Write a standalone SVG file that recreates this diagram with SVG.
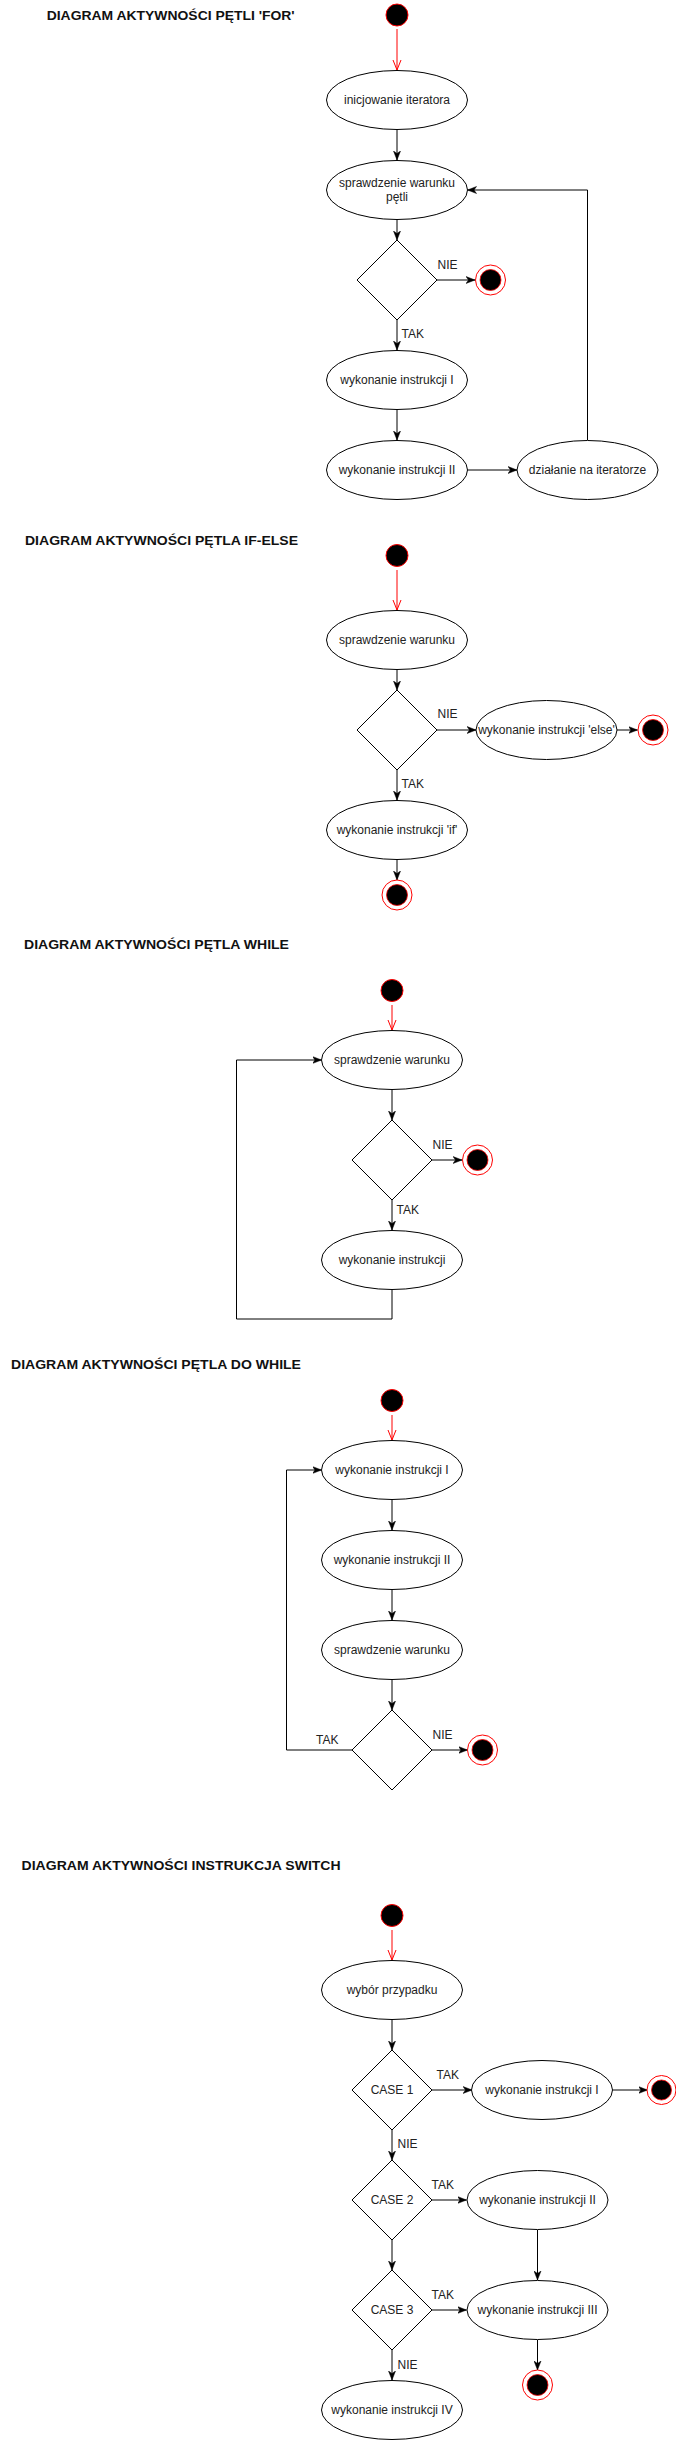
<svg xmlns="http://www.w3.org/2000/svg" width="676" height="2441" viewBox="0 0 676 2441">
<style>
.title{font-family:"Liberation Sans",Arial,sans-serif;font-size:13px;font-weight:bold;fill:#111}
.t{font-family:"Liberation Sans",Arial,sans-serif;font-size:12px;fill:#222;text-anchor:middle}
.lbl{font-family:"Liberation Sans",Arial,sans-serif;font-size:12px;fill:#222}
.act{fill:#fff;stroke:#000;stroke-width:1}
.start{fill:#000;stroke:#f00;stroke-width:1}
.endo{fill:#fff;stroke:#f00;stroke-width:1}
.endi{fill:#000;stroke:#f00;stroke-width:0.8}
.c{fill:none;stroke:#000;stroke-width:1;marker-end:url(#arr)}
.cl{fill:none;stroke:#000;stroke-width:1}
.r{fill:none;stroke:#f00;stroke-width:1;marker-end:url(#open)}
</style>
<defs>
<marker id="arr" markerWidth="10" markerHeight="8" refX="9" refY="4" orient="auto" markerUnits="userSpaceOnUse"><path d="M0,0.5 L9,4 L0,7.5 L2.5,4 Z" fill="#000" stroke="#000" stroke-width="0.5"/></marker>
<marker id="open" markerWidth="12" markerHeight="10" refX="10" refY="5" orient="auto" markerUnits="userSpaceOnUse"><path d="M0,1 L10,5 L0,9" fill="none" stroke="#f00" stroke-width="1"/></marker>
</defs>
<rect width="676" height="2441" fill="#fff"/>

<!-- Titles -->
<g id="titles">
<text class="title" x="46.7" y="19.5" textLength="248" lengthAdjust="spacingAndGlyphs">DIAGRAM AKTYWNOŚCI PĘTLI 'FOR'</text>
<text class="title" x="25" y="545" textLength="273" lengthAdjust="spacingAndGlyphs">DIAGRAM AKTYWNOŚCI PĘTLA IF-ELSE</text>
<text class="title" x="24" y="949.3" textLength="265" lengthAdjust="spacingAndGlyphs">DIAGRAM AKTYWNOŚCI PĘTLA WHILE</text>
<text class="title" x="11" y="1369.3" textLength="290" lengthAdjust="spacingAndGlyphs">DIAGRAM AKTYWNOŚCI PĘTLA DO WHILE</text>
<text class="title" x="21.6" y="1870" textLength="319" lengthAdjust="spacingAndGlyphs">DIAGRAM AKTYWNOŚCI INSTRUKCJA SWITCH</text>
</g>

<!-- Connectors -->
<g id="connectors">
<!-- diagram 1 -->
<path class="r" d="M397,29 V70"/>
<path class="c" d="M397,130 V160"/>
<path class="c" d="M397,220 V240"/>
<path class="c" d="M437,280 H475"/>
<path class="c" d="M397,320 V350"/>
<path class="c" d="M397,410 V440"/>
<path class="c" d="M467.5,470 H517"/>
<path class="c" d="M587.5,440 V190 H467.5"/>
<!-- diagram 2 -->
<path class="r" d="M397,570 V610"/>
<path class="c" d="M397,670 V690"/>
<path class="c" d="M437,730 H476"/>
<path class="c" d="M617,730 H637.5"/>
<path class="c" d="M397,770 V800"/>
<path class="c" d="M397,860 V880"/>
<!-- diagram 3 -->
<path class="r" d="M392,1005 V1030"/>
<path class="c" d="M392,1090 V1120"/>
<path class="c" d="M432,1160 H462"/>
<path class="c" d="M392,1200 V1230"/>
<path class="c" d="M392,1290 V1319 H236.5 V1060 H321.5"/>
<!-- diagram 4 -->
<path class="r" d="M392,1415 V1440"/>
<path class="c" d="M392,1500 V1530"/>
<path class="c" d="M392,1590 V1620"/>
<path class="c" d="M392,1680 V1710"/>
<path class="c" d="M352,1750 H286.5 V1470 H321.5"/>
<path class="c" d="M432,1750 H467.5"/>
<!-- diagram 5 -->
<path class="r" d="M392,1930 V1960"/>
<path class="c" d="M392,2020 V2050"/>
<path class="c" d="M432,2090 H472"/>
<path class="c" d="M612.5,2090 H647.5"/>
<path class="c" d="M392,2130 V2160"/>
<path class="c" d="M432,2200 H466.5"/>
<path class="c" d="M537.5,2230 V2280"/>
<path class="c" d="M392,2240 V2270"/>
<path class="c" d="M432,2310 H466.5"/>
<path class="c" d="M537.5,2340 V2370"/>
<path class="c" d="M392,2350 V2380"/>
</g>

<!-- Edge labels -->
<g id="edge-labels">
<text class="lbl" x="437.5" y="269">NIE</text>
<text class="lbl" x="401.5" y="338">TAK</text>
<text class="lbl" x="437.5" y="718">NIE</text>
<text class="lbl" x="401.5" y="788">TAK</text>
<text class="lbl" x="432.5" y="1149">NIE</text>
<text class="lbl" x="396.5" y="1214">TAK</text>
<text class="lbl" x="316" y="1744">TAK</text>
<text class="lbl" x="432.5" y="1739">NIE</text>
<text class="lbl" x="436.5" y="2079">TAK</text>
<text class="lbl" x="397.5" y="2148">NIE</text>
<text class="lbl" x="431.5" y="2189">TAK</text>
<text class="lbl" x="431.5" y="2299">TAK</text>
<text class="lbl" x="397.5" y="2369">NIE</text>
</g>

<!-- Diagram 1 nodes -->
<g id="d1-start"><circle class="start" cx="397" cy="15" r="11"/></g>
<g id="d1-init"><ellipse class="act" cx="397" cy="100" rx="70.5" ry="29.5"/><text class="t" x="397" y="104">inicjowanie iteratora</text></g>
<g id="d1-check"><ellipse class="act" cx="397" cy="190" rx="70.5" ry="29.5"/><text class="t" x="397" y="187">sprawdzenie warunku</text><text class="t" x="397" y="201">pętli</text></g>
<g id="d1-dec"><path class="act" d="M397,240 L437,280 L397,320 L357,280 Z"/></g>
<g id="d1-end"><circle class="endo" cx="490.5" cy="280" r="15"/><circle class="endi" cx="490.5" cy="280" r="10.5"/></g>
<g id="d1-instr1"><ellipse class="act" cx="397" cy="380" rx="70.5" ry="29.5"/><text class="t" x="397" y="384">wykonanie instrukcji I</text></g>
<g id="d1-instr2"><ellipse class="act" cx="397" cy="470" rx="70.5" ry="29.5"/><text class="t" x="397" y="474">wykonanie instrukcji II</text></g>
<g id="d1-iter"><ellipse class="act" cx="587.5" cy="470" rx="70.5" ry="29.5"/><text class="t" x="587.5" y="474">działanie na iteratorze</text></g>

<!-- Diagram 2 nodes -->
<g id="d2-start"><circle class="start" cx="397" cy="555.5" r="11"/></g>
<g id="d2-check"><ellipse class="act" cx="397" cy="640" rx="70.5" ry="29.5"/><text class="t" x="397" y="644">sprawdzenie warunku</text></g>
<g id="d2-dec"><path class="act" d="M397,690 L437,730 L397,770 L357,730 Z"/></g>
<g id="d2-else"><ellipse class="act" cx="546.5" cy="730" rx="70.5" ry="29.5"/><text class="t" x="546.5" y="734">wykonanie instrukcji 'else'</text></g>
<g id="d2-end1"><circle class="endo" cx="653" cy="730" r="15"/><circle class="endi" cx="653" cy="730" r="10.5"/></g>
<g id="d2-if"><ellipse class="act" cx="397" cy="830" rx="70.5" ry="29.5"/><text class="t" x="397" y="834">wykonanie instrukcji 'if'</text></g>
<g id="d2-end2"><circle class="endo" cx="397" cy="895" r="15"/><circle class="endi" cx="397" cy="895" r="10.5"/></g>

<!-- Diagram 3 nodes -->
<g id="d3-start"><circle class="start" cx="392" cy="990.5" r="11"/></g>
<g id="d3-check"><ellipse class="act" cx="392" cy="1060" rx="70.5" ry="29.5"/><text class="t" x="392" y="1064">sprawdzenie warunku</text></g>
<g id="d3-dec"><path class="act" d="M392,1120 L432,1160 L392,1200 L352,1160 Z"/></g>
<g id="d3-end"><circle class="endo" cx="477.5" cy="1160" r="15"/><circle class="endi" cx="477.5" cy="1160" r="10.5"/></g>
<g id="d3-instr"><ellipse class="act" cx="392" cy="1260" rx="70.5" ry="29.5"/><text class="t" x="392" y="1264">wykonanie instrukcji</text></g>

<!-- Diagram 4 nodes -->
<g id="d4-start"><circle class="start" cx="392" cy="1400.5" r="11"/></g>
<g id="d4-instr1"><ellipse class="act" cx="392" cy="1470" rx="70.5" ry="29.5"/><text class="t" x="392" y="1474">wykonanie instrukcji I</text></g>
<g id="d4-instr2"><ellipse class="act" cx="392" cy="1560" rx="70.5" ry="29.5"/><text class="t" x="392" y="1564">wykonanie instrukcji II</text></g>
<g id="d4-check"><ellipse class="act" cx="392" cy="1650" rx="70.5" ry="29.5"/><text class="t" x="392" y="1654">sprawdzenie warunku</text></g>
<g id="d4-dec"><path class="act" d="M392,1710 L432,1750 L392,1790 L352,1750 Z"/></g>
<g id="d4-end"><circle class="endo" cx="482.5" cy="1750" r="15"/><circle class="endi" cx="482.5" cy="1750" r="10.5"/></g>

<!-- Diagram 5 nodes -->
<g id="d5-start"><circle class="start" cx="392" cy="1915.5" r="11"/></g>
<g id="d5-choose"><ellipse class="act" cx="392" cy="1990" rx="70.5" ry="29.5"/><text class="t" x="392" y="1994">wybór przypadku</text></g>
<g id="d5-case1"><path class="act" d="M392,2050 L432,2090 L392,2130 L352,2090 Z"/><text class="t" x="392" y="2094">CASE 1</text></g>
<g id="d5-instr1"><ellipse class="act" cx="542" cy="2090" rx="70.5" ry="29.5"/><text class="t" x="542" y="2094">wykonanie instrukcji I</text></g>
<g id="d5-end1"><circle class="endo" cx="661.5" cy="2090" r="14.5"/><circle class="endi" cx="661.5" cy="2090" r="10"/></g>
<g id="d5-case2"><path class="act" d="M392,2160 L432,2200 L392,2240 L352,2200 Z"/><text class="t" x="392" y="2204">CASE 2</text></g>
<g id="d5-instr2"><ellipse class="act" cx="537.5" cy="2200" rx="70.5" ry="29.5"/><text class="t" x="537.5" y="2204">wykonanie instrukcji II</text></g>
<g id="d5-case3"><path class="act" d="M392,2270 L432,2310 L392,2350 L352,2310 Z"/><text class="t" x="392" y="2314">CASE 3</text></g>
<g id="d5-instr3"><ellipse class="act" cx="537.5" cy="2310" rx="70.5" ry="29.5"/><text class="t" x="537.5" y="2314">wykonanie instrukcji III</text></g>
<g id="d5-end2"><circle class="endo" cx="537.5" cy="2385" r="15"/><circle class="endi" cx="537.5" cy="2385" r="10.5"/></g>
<g id="d5-instr4"><ellipse class="act" cx="392" cy="2410" rx="70.5" ry="29.5"/><text class="t" x="392" y="2414">wykonanie instrukcji IV</text></g>
</svg>
